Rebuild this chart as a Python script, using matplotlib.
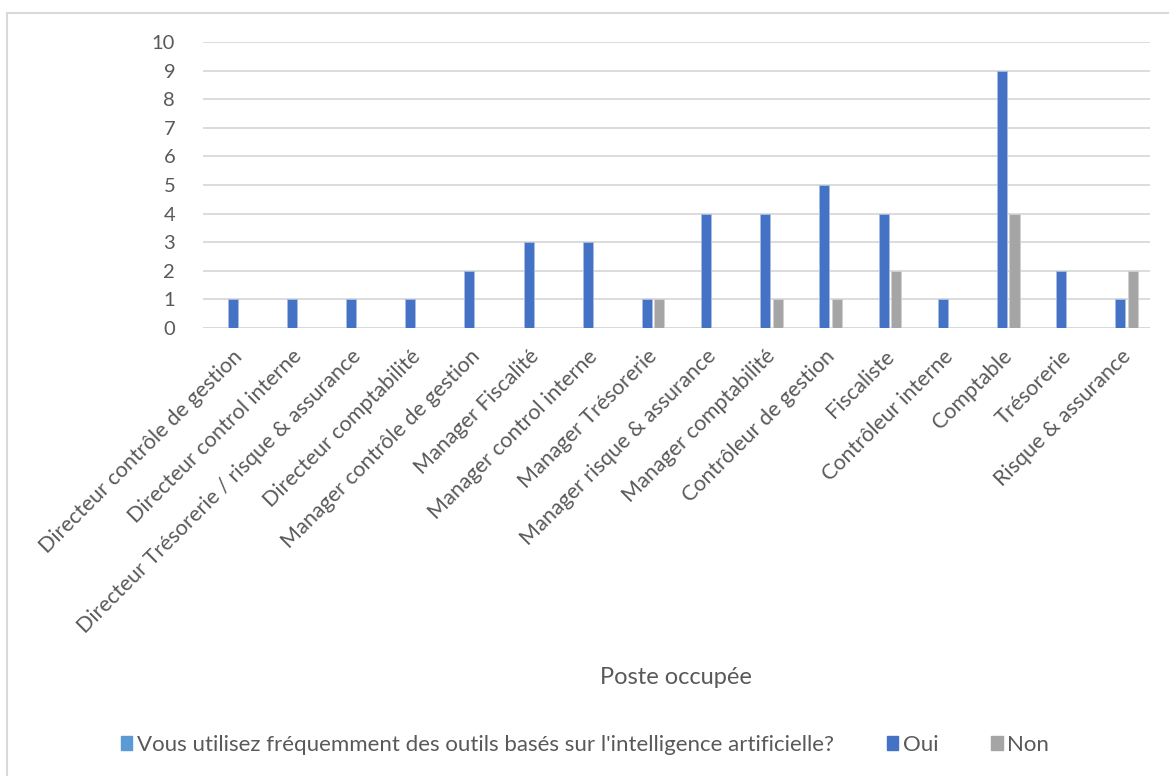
import matplotlib.pyplot as plt
import numpy as np
from matplotlib.lines import Line2D
from matplotlib.patches import Patch

plt.rcParams['font.family'] = ['Lato', 'DejaVu Sans']

postes = ['Directeur contrôle de gestion', 'Directeur control interne',
          'Directeur Trésorerie / risque & assurance', 'Directeur comptabilité',
          'Manager contrôle de gestion', 'Manager Fiscalité',
          'Manager control interne', 'Manager Trésorerie',
          'Manager risque & assurance', 'Manager comptabilité',
          'Contrôleur de gestion', 'Fiscaliste', 'Contrôleur interne',
          'Comptable', 'Trésorerie', 'Risque & assurance']
question = [0] * 16
oui = [1, 1, 1, 1, 2, 3, 3, 1, 4, 4, 5, 4, 1, 9, 2, 1]
non = [0, 0, 0, 0, 0, 0, 0, 1, 0, 1, 1, 2, 0, 4, 0, 2]

c_q, c_oui, c_non = '#5B9BD5', '#4472C4', '#A5A5A5'
txt = '#595959'

fig = plt.figure(figsize=(11.69, 7.76), dpi=100)
ax = fig.add_axes([203 / 1169, 1 - 328 / 776, 947 / 1169, 286 / 776])

x = np.arange(len(postes))
step, w = 0.211, 0.17
ax.bar(x - step, question, w, color=c_q, zorder=3)
ax.bar(x, oui, w, color=c_oui, edgecolor='#A9BDE6', linewidth=0.6, zorder=3)
ax.bar(x + step, non, w, color=c_non, edgecolor='#D0D0D0', linewidth=0.6, zorder=3)

ax.set_xlim(-0.5, len(postes) - 0.5)
ax.set_ylim(0, 10)
ax.set_yticks(range(0, 11))
ax.yaxis.grid(True, color='#D9D9D9', linewidth=1.3, zorder=0)
for s in ax.spines.values():
    s.set_visible(False)
ax.axhline(0, color='#D9D9D9', linewidth=1.3, zorder=2)
ax.tick_params(axis='both', length=0, colors=txt)
ax.tick_params(axis='y', pad=20, labelsize=14.5)

ax.set_xticks(x)
ax.set_xticklabels(postes, rotation=45, ha='right', va='top',
                   rotation_mode='anchor', fontsize=15.5, color=txt)
ax.tick_params(axis='x', pad=13)

fig.text(676 / 1169, 1 - 677 / 776, 'Poste occupée', ha='center', va='center',
         fontsize=17, color=txt)

handles = [Patch(color=c_q), Patch(color=c_oui), Patch(color=c_non)]
labels = ["Vous utilisez fréquemment des outils basés sur l'intelligence artificielle?",
          'Oui', 'Non']
fig.legend(handles, labels, loc='center', bbox_to_anchor=(585 / 1169, 1 - 745 / 776),
           ncol=3, frameon=False, fontsize=16, labelcolor=txt,
           handlelength=0.5, handleheight=0.55, handletextpad=0.2, columnspacing=2.4)

# chart area frame (left and top edges)
fig.add_artist(Line2D([7 / 1169, 7 / 1169], [0, 1 - 13 / 776],
                      transform=fig.transFigure, color='#D9D9D9', linewidth=1.5))
fig.add_artist(Line2D([7 / 1169, 1], [1 - 13 / 776, 1 - 13 / 776],
                      transform=fig.transFigure, color='#D9D9D9', linewidth=1.5))

fig.savefig('out.png', dpi=100)
